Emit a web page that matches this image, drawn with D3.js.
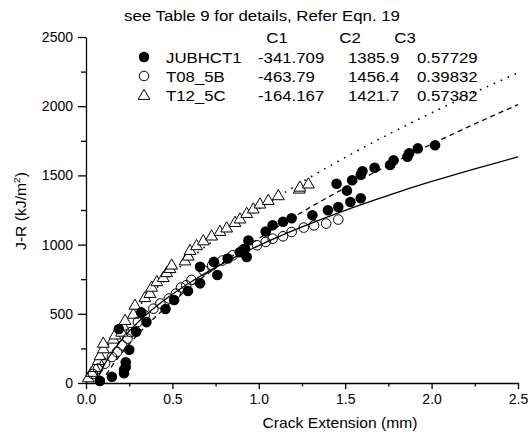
<!DOCTYPE html>
<html>
<head>
<meta charset="utf-8">
<script src="https://cdn.jsdelivr.net/npm/d3@7/dist/d3.min.js"></script>
<style>
  body { margin: 0; background: #fff; }
  svg text { font-family: Arial, "Liberation Sans", sans-serif; fill: #000; }
</style>
</head>
<body>
<svg id="chart" width="531" height="434"></svg>
<script>
// measured points, [crack extension (mm), J-R (kJ/m2)]
const jubhct1 = [[0.08,15],[0.15,45],[0.22,70],[0.22,95],[0.23,115],[0.23,150],[0.25,240],[0.19,390],[0.29,370],
  [0.32,510],[0.35,440],[0.46,535],[0.51,600],[0.59,665],[0.66,720],[0.66,840],[0.76,780],[0.74,875],[0.82,900],
  [0.89,945],[0.92,970],[0.93,910],[0.94,1030],[1.04,1095],[1.08,1140],[1.14,1165],[1.19,1190],[1.31,1212],
  [1.40,1248],[1.46,1272],[1.53,1308],[1.59,1335],[1.45,1440],[1.51,1390],[1.54,1465],[1.59,1505],[1.60,1530],
  [1.67,1555],[1.76,1575],[1.78,1610],[1.86,1635],[1.87,1660],[1.92,1695],[2.02,1718]];
const t08_5b = [[0.04,65],[0.07,104],[0.11,140],[0.15,188],[0.18,224],[0.21,272],[0.24,321],[0.26,368],[0.30,441],
  [0.34,489],[0.39,537],[0.43,574],[0.48,610],[0.52,646],[0.55,690],[0.58,706],[0.61,745],[0.68,814],[0.73,850],
  [0.79,885],[0.85,923],[0.91,965],[0.99,995],[1.04,1019],[1.08,1043],[1.14,1060],[1.19,1091],[1.26,1123],
  [1.32,1139],[1.39,1152],[1.46,1181]];
const t12_5c = [[0.013,40],[0.033,80],[0.052,115],[0.071,165],[0.081,200],[0.10,250],[0.10,290],[0.158,320],
  [0.168,350],[0.206,370],[0.216,415],[0.226,455],[0.274,500],[0.283,565],[0.341,620],[0.37,650],[0.38,695],
  [0.41,735],[0.447,765],[0.467,800],[0.486,830],[0.496,855],[0.573,885],[0.592,920],[0.602,960],[0.640,995],
  [0.679,1030],[0.727,1065],[0.775,1098],[0.814,1123],[0.862,1163],[0.891,1188],[0.930,1228],[0.968,1260],
  [1.007,1296],[1.055,1322],[1.113,1356],[1.234,1404],[1.238,1418],[1.287,1441]];

// fitted curves
const fitJub = [[0.09,3],[0.1,25],[0.15,122],[0.2,206],[0.3,350],[0.4,475],[0.5,587],[0.6,690],[0.75,832],[0.9,962],
  [1.0,1044],[1.25,1235],[1.5,1410],[1.75,1573],[2.0,1726],[2.25,1872],[2.5,2011]];
const fitT08 = [[0.06,11],[0.1,118],[0.15,220],[0.2,303],[0.3,438],[0.4,547],[0.5,641],[0.6,724],[0.75,835],[0.9,933],
  [1.0,993],[1.25,1128],[1.5,1248],[1.75,1356],[2.0,1456],[2.25,1548],[2.5,1634]];
const fitT12 = [[0.03,26],[0.05,91],[0.1,215],[0.15,315],[0.2,400],[0.3,548],[0.4,676],[0.5,791],[0.6,896],[0.75,1041],
  [0.9,1174],[1.0,1258],[1.25,1452],[1.5,1630],[1.75,1796],[2.0,1952],[2.25,2100],[2.5,2241]];

const seriesNames = ["JUBHCT1", "T08_5B", "T12_5C"];
const coefC1 = ["-341.709", "-463.79", "-164.167"];
const coefC2 = ["1385.9", "1456.4", "1421.7"];
const coefC3 = ["0.57729", "0.39832", "0.57382"];

const xMajor = [0, 0.5, 1.0, 1.5, 2.0, 2.5];
const xMinor = [0.25, 0.75, 1.25, 1.75, 2.25];
const yMajor = [0, 500, 1000, 1500, 2000, 2500];
const yMinor = [250, 750, 1250, 1750, 2250];

const margin = { top: 37, right: 13, bottom: 51, left: 86 };
const width = 531 - margin.left - margin.right;
const height = 434 - margin.top - margin.bottom;

const root = d3.select("#chart");
const svg = root.append("g").attr("transform", `translate(${margin.left},${margin.top})`);

const x = d3.scaleLinear().domain([0, 2.5]).range([0, width]);
const y = d3.scaleLinear().domain([0, 2500]).range([height, 0]);

// the original text is a bit wider than plain Arial
const stretch = 1.12;
const label = (parent, tx, ty, str, size, anchor) =>
  parent.append("text")
    .attr("transform", `translate(${tx},${ty}) scale(${stretch},1)`)
    .attr("text-anchor", anchor || "start")
    .style("font-size", size + "px")
    .text(str);

// axes
svg.append("g").attr("transform", `translate(0,${height})`)
  .call(d3.axisBottom(x).tickValues(xMajor).tickFormat(d3.format(".1f")).tickSize(6).tickSizeOuter(0).tickPadding(5));
svg.append("g").attr("transform", `translate(0,${height})`)
  .call(d3.axisBottom(x).tickValues(xMinor).tickFormat("").tickSize(3.5).tickSizeOuter(0))
  .select(".domain").remove();
svg.append("g")
  .call(d3.axisLeft(y).tickValues(yMajor).tickFormat(d3.format("d")).tickSize(8).tickSizeOuter(0).tickPadding(5));
svg.append("g")
  .call(d3.axisLeft(y).tickValues(yMinor).tickFormat("").tickSize(5).tickSizeOuter(0))
  .select(".domain").remove();
svg.selectAll(".domain, .tick line").attr("stroke", "#000").attr("stroke-width", 1.3);
svg.selectAll(".tick text").style("font-size", "14px").attr("fill", "#000");

// fitted lines
const line = d3.line().x(d => x(d[0])).y(d => y(d[1])).curve(d3.curveMonotoneX);
svg.append("path").datum(fitT08).attr("d", line)
  .attr("fill", "none").attr("stroke", "#000").attr("stroke-width", 1.3);
svg.append("path").datum(fitJub).attr("d", line)
  .attr("fill", "none").attr("stroke", "#000").attr("stroke-width", 1.3).attr("stroke-dasharray", "5,4");
svg.append("path").datum(fitT12).attr("d", line)
  .attr("fill", "none").attr("stroke", "#000").attr("stroke-width", 1.6)
  .attr("stroke-dasharray", "1.6,6").attr("stroke-linecap", "butt");

// markers
const tri = d3.symbol().type(d3.symbolTriangle).size(60);
svg.append("g").selectAll("path").data(t12_5c).enter().append("path")
  .attr("d", tri)
  .attr("transform", d => `translate(${x(d[0])},${y(d[1]) + 1})`)
  .attr("fill", "#fff").attr("stroke", "#000").attr("stroke-width", 1);
svg.append("g").selectAll("circle").data(t08_5b).enter().append("circle")
  .attr("cx", d => x(d[0])).attr("cy", d => y(d[1])).attr("r", 4.8)
  .attr("fill", "none").attr("stroke", "#000").attr("stroke-width", 1);
svg.append("g").selectAll("circle").data(jubhct1).enter().append("circle")
  .attr("cx", d => x(d[0])).attr("cy", d => y(d[1])).attr("r", 5.3)
  .attr("fill", "#000");

// axis titles
label(root, 340, 428, "Crack Extension (mm)", 14, "middle");
const yl = root.append("text").attr("transform", `translate(26,211) rotate(-90) scale(${stretch},1)`)
  .attr("text-anchor", "middle").style("font-size", "14px");
yl.append("tspan").text("J-R (kJ/m");
yl.append("tspan").attr("dy", -6).style("font-size", "9px").text("2");
yl.append("tspan").attr("dy", 6).text(")");

// title and legend table
label(root, 262, 21, "see Table 9 for details, Refer Eqn. 19", 15, "middle");

const colX = [277, 350, 405];
["C1", "C2", "C3"].forEach((c, i) => label(root, colX[i], 43, c, 15, "middle"));

const rowY = [57, 76, 95];
const legend = root.append("g");
seriesNames.forEach((name, i) => {
  const cy = rowY[i];
  if (i === 0) legend.append("circle").attr("cx", 144).attr("cy", cy).attr("r", 5.3).attr("fill", "#000");
  if (i === 1) legend.append("circle").attr("cx", 144).attr("cy", cy).attr("r", 4.8)
    .attr("fill", "none").attr("stroke", "#000");
  if (i === 2) legend.append("path").attr("d", tri).attr("transform", `translate(144,${cy + 1})`)
    .attr("fill", "#fff").attr("stroke", "#000");
  label(legend, 166, cy + 5.5, name, 15);
  label(legend, 258, cy + 5.5, coefC1[i], 15);
  label(legend, 348, cy + 5.5, coefC2[i], 15);
  label(legend, 417, cy + 5.5, coefC3[i], 15);
});
</script>
</body>
</html>
